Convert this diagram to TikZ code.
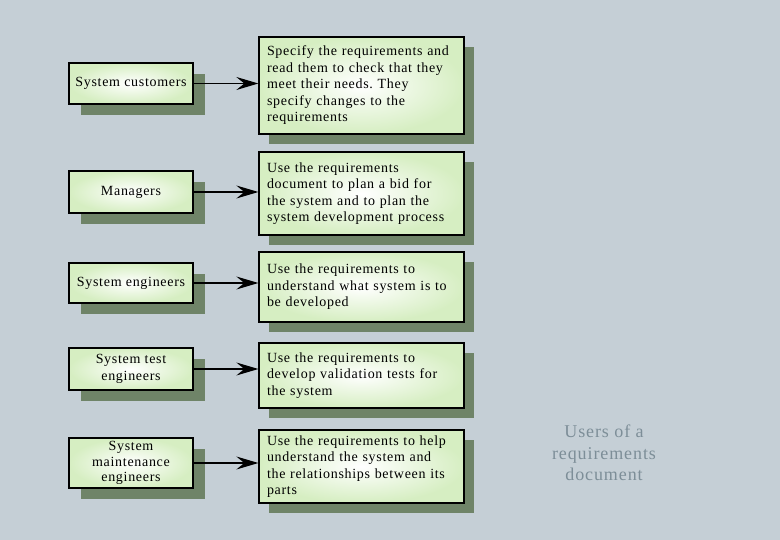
\documentclass[tikz,border=0pt]{standalone}
\usepackage{fontspec}
\setmainfont{Liberation Serif}[LetterSpace=5]
\frenchspacing
\usetikzlibrary{arrows.meta,positioning,shadows}
\definecolor{bgblue}{HTML}{C5CFD6}
\definecolor{boxgreen}{HTML}{D6EEC2}
\definecolor{shadegreen}{HTML}{6F8468}
\definecolor{capgrey}{HTML}{7D8E98}

\begin{document}
\begin{tikzpicture}[x=1pt,y=-1pt,
 reader/.style={draw,line width=1.3pt,inner color=white,outer color=boxgreen,
  minimum width=124pt,align=center,inner ysep=1pt,
  font=\fontsize{14}{16.5}\selectfont,
  drop shadow={shadow xshift=12pt,shadow yshift=-11pt,fill=shadegreen,opacity=1}},
 purpose/.style={draw,line width=1.3pt,inner color=white,outer color=boxgreen,
  text width=189pt,inner xsep=8pt,inner ysep=2pt,align=left,
  font=\fontsize{14}{16.5}\selectfont,
  drop shadow={shadow xshift=10pt,shadow yshift=-10pt,fill=shadegreen,opacity=1}},
 >={Stealth[length=22pt,width=13pt,inset=8pt]}]
\fill[bgblue] (0,0) rectangle (780,540);
\useasboundingbox (0,0) rectangle (780,540);

\node[reader,minimum height=41pt] (cust) at (131,83.5) {System customers};
\node[reader,minimum height=42pt] (mgr) at (131,192) {Managers};
\node[reader,minimum height=40pt] (eng) at (131,283) {System engineers};
\node[reader,minimum height=42pt] (test) at (131,369) {System test\\engineers};
\node[reader,minimum height=50pt,inner ysep=0pt,font=\fontsize{14}{15.8}\selectfont]
 (maint) at (131,463) {System\\maintenance\\engineers};

\node[purpose,minimum height=97pt] (custuse) at (361.5,85.5) {Specify the requirements and\\
 read them to check that they\\meet their needs. They\\specify changes to the\\requirements};
\node[purpose,minimum height=83pt] (mgruse) at (361.5,193.5) {Use the requirements\\
 document to plan a bid for\\the system and to plan the\\system development process};
\node[purpose,minimum height=70pt] (enguse) at (361.5,287) {Use the requirements to\\
 understand what system is to\\be developed};
\node[purpose,minimum height=65pt] (testuse) at (361.5,375.5) {Use the requirements to\\
 develop validation tests for\\the system};
\node[purpose,minimum height=73pt] (maintuse) at (361.5,466.5) {Use the requirements to help\\
 understand the system and\\the relationships between its\\parts};

\foreach \a/\b in {cust/custuse,mgr/mgruse,eng/enguse,test/testuse,maint/maintuse}
 \draw[->,line width=1.2pt] (\a.east) -- (\a.east -| \b.west);

\node[text=capgrey,align=center,font=\fontsize{18}{21.5}\selectfont] (cap) at (604,453)
 {Users of a\\requirements\\document};
\end{tikzpicture}
\end{document}
